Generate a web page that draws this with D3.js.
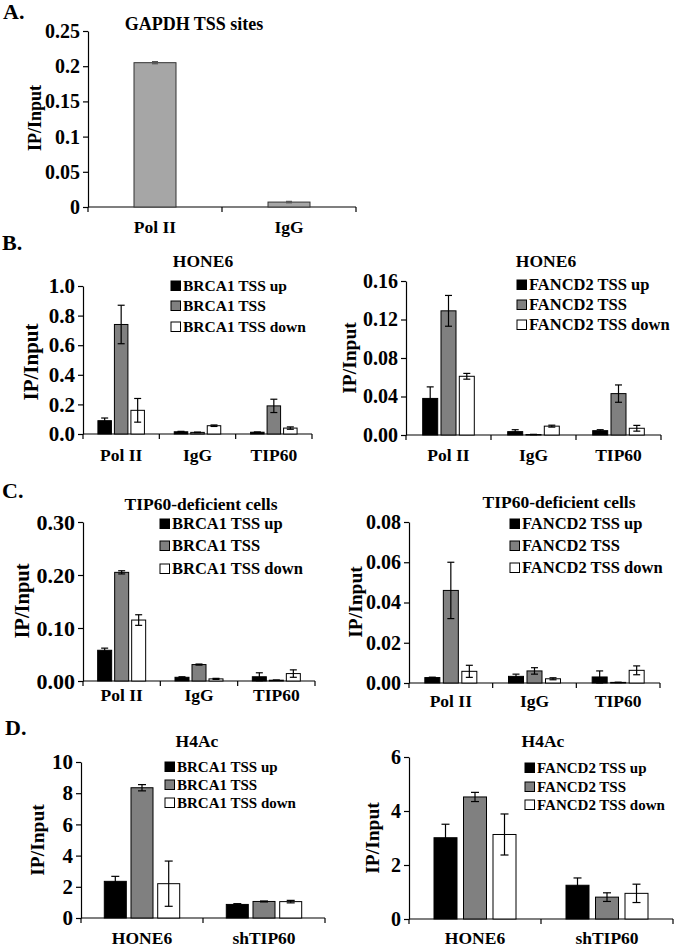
<!DOCTYPE html>
<html><head><meta charset="utf-8">
<script src="https://cdn.jsdelivr.net/npm/d3@7"></script>
<style>
html,body{margin:0;padding:0;background:#fff;}
svg text{font-family:"Liberation Serif","Times New Roman",serif;font-weight:bold;fill:#000;}
</style></head><body>
<svg id="chart" width="675" height="948"></svg>
<script>
// ---------------- DATA ----------------
const gapdhCategories = ["Pol II", "IgG"];
const gapdhSeries = ["GAPDH TSS sites"];
const gapdhValues = [0.205, 0.007];
const gapdhErrors = [0.0015, 0.001];
const gapdhTicks = [0, 0.05, 0.1, 0.15, 0.2, 0.25];

const chipCategories = ["Pol II", "IgG", "TIP60"];
const h4Categories = ["HONE6", "shTIP60"];
const brca1Series = ["BRCA1 TSS up", "BRCA1 TSS", "BRCA1 TSS down"];
const fancd2Series = ["FANCD2 TSS up", "FANCD2 TSS", "FANCD2 TSS down"];

// B: HONE6, BRCA1
const hone6Brca1Up = [0.09, 0.015, 0.012];
const hone6Brca1UpErr = [0.018, 0.003, 0.002];
const hone6Brca1Tss = [0.74, 0.011, 0.19];
const hone6Brca1TssErr = [0.13, 0.002, 0.045];
const hone6Brca1Down = [0.16, 0.056, 0.04];
const hone6Brca1DownErr = [0.08, 0.005, 0.008];
const hone6Brca1Ticks = [0, 0.2, 0.4, 0.6, 0.8, 1.0];

// B: HONE6, FANCD2
const hone6Fancd2Up = [0.038, 0.0035, 0.0045];
const hone6Fancd2UpErr = [0.012, 0.002, 0.001];
const hone6Fancd2Tss = [0.129, 0.0005, 0.043];
const hone6Fancd2TssErr = [0.016, 0.0002, 0.009];
const hone6Fancd2Down = [0.061, 0.0092, 0.007];
const hone6Fancd2DownErr = [0.003, 0.001, 0.003];
const hone6Fancd2Ticks = [0, 0.04, 0.08, 0.12, 0.16];

// C: TIP60-deficient, BRCA1
const defBrca1Up = [0.058, 0.007, 0.008];
const defBrca1UpErr = [0.004, 0.001, 0.0075];
const defBrca1Tss = [0.205, 0.031, 0.0015];
const defBrca1TssErr = [0.003, 0.001, 0.0003];
const defBrca1Down = [0.115, 0.004, 0.014];
const defBrca1DownErr = [0.01, 0.001, 0.007];
const defBrca1Ticks = [0, 0.1, 0.2, 0.3];

// C: TIP60-deficient, FANCD2
const defFancd2Up = [0.0027, 0.0033, 0.003];
const defFancd2UpErr = [0.0002, 0.0011, 0.003];
const defFancd2Tss = [0.046, 0.006, 0.0003];
const defFancd2TssErr = [0.014, 0.0016, 0.0001];
const defFancd2Down = [0.0058, 0.0021, 0.0063];
const defFancd2DownErr = [0.003, 0.0005, 0.0022];
const defFancd2Ticks = [0, 0.02, 0.04, 0.06, 0.08];

// D: H4Ac, BRCA1
const h4Brca1Up = [2.35, 0.87];
const h4Brca1UpErr = [0.32, 0.05];
const h4Brca1Tss = [8.35, 1.06];
const h4Brca1TssErr = [0.2, 0.03];
const h4Brca1Down = [2.2, 1.05];
const h4Brca1DownErr = [1.45, 0.08];
const h4Brca1Ticks = [0, 2, 4, 6, 8, 10];

// D: H4Ac, FANCD2
const h4Fancd2Up = [3.01, 1.25];
const h4Fancd2UpErr = [0.5, 0.27];
const h4Fancd2Tss = [4.52, 0.81];
const h4Fancd2TssErr = [0.17, 0.16];
const h4Fancd2Down = [3.13, 0.95];
const h4Fancd2DownErr = [0.76, 0.34];
const h4Fancd2Ticks = [0, 2, 4, 6];

// ---------------- DRAWING ----------------
const svg = d3.select("#chart");
const seriesFills = ["#000000", "#808080", "#ffffff"];

function drawPanel(cfg, cats, series, vals, errs, ticks, fmt, fills) {
  const g = svg.append("g");
  const x = d3.scaleBand().domain(cats).range([cfg.x0, cfg.x1]);
  const y = d3.scaleLinear().domain([0, cfg.max]).range([cfg.yb, cfg.yt]);
  const s = d3.scaleBand().domain(series)
    .range([-series.length / 2 * cfg.step, series.length / 2 * cfg.step]);

  // y axis
  const ya = g.append("g").attr("transform", `translate(${cfg.x0},0)`)
    .call(d3.axisLeft(y).tickValues(ticks).tickFormat(fmt).tickSize(5).tickSizeOuter(0).tickPadding(3));
  ya.select(".domain").attr("stroke", "#000").attr("stroke-width", 1.2);
  ya.selectAll(".tick line").attr("stroke", "#000").attr("stroke-width", 1.2);
  ya.selectAll(".tick text").style("font-size", cfg.tickFs + "px")
    .style("font-family", '"Liberation Serif",serif').style("font-weight", "bold").attr("fill", "#000");

  // x axis: line + boundary ticks (Excel style)
  g.append("line").attr("x1", cfg.x0).attr("x2", cfg.x1)
    .attr("y1", y(0)).attr("y2", y(0)).attr("stroke", "#000").attr("stroke-width", 1.2);
  const bounds = cats.map(c => x(c)).concat([x.range()[1]]);
  g.selectAll(".xt").data(bounds).enter().append("line")
    .attr("x1", d => d).attr("x2", d => d)
    .attr("y1", y(0)).attr("y2", y(0) + 5)
    .attr("stroke", "#000").attr("stroke-width", 1.2);
  g.selectAll(".xl").data(cats).enter().append("text")
    .attr("x", d => x(d) + x.bandwidth() / 2)
    .attr("y", cfg.xlY).attr("text-anchor", "middle")
    .style("font-size", cfg.xlFs + "px").text(d => d);

  // bars
  series.forEach((sn, i) => {
    cats.forEach((c, j) => {
      const v = vals[i][j], e = errs[i][j];
      const cx = x(c) + x.bandwidth() / 2 + s(sn) + s.bandwidth() / 2;
      g.append("rect")
        .attr("x", cx - cfg.bw / 2).attr("width", cfg.bw)
        .attr("y", y(v)).attr("height", y(0) - y(v))
        .attr("fill", fills[i]).attr("stroke", cfg.barStroke || "#000").attr("stroke-width", 1);
      const ec = cfg.errColor || "#000";
      const cap = cfg.cap || 7;
      g.append("line").attr("x1", cx).attr("x2", cx)
        .attr("y1", y(v + e)).attr("y2", y(Math.max(0, v - e)))
        .attr("stroke", ec).attr("stroke-width", 1.2);
      [v + e, Math.max(0, v - e)].forEach(yy => {
        g.append("line").attr("x1", cx - cap / 2).attr("x2", cx + cap / 2)
          .attr("y1", y(yy)).attr("y2", y(yy))
          .attr("stroke", ec).attr("stroke-width", 1.2);
      });
    });
  });

  // title
  g.append("text").attr("x", cfg.tx).attr("y", cfg.ty).attr("text-anchor", "middle")
    .style("font-size", cfg.titleFs + "px").text(cfg.title);
  // y label
  g.append("text").attr("transform", `translate(${cfg.ylx},${cfg.yly}) rotate(-90)`)
    .attr("text-anchor", "middle").style("font-size", cfg.ylFs + "px").text("IP/Input");
  // panel letter
  if (cfg.letter) {
    g.append("text").attr("x", cfg.letter[1]).attr("y", cfg.letter[2])
      .style("font-size", "22px").text(cfg.letter[0]);
  }
  // legend
  if (cfg.lx !== undefined) {
    series.forEach((sn, i) => {
      g.append("rect").attr("x", cfg.lx).attr("y", cfg.lys[i] - 10)
        .attr("width", 9.5).attr("height", 9.5)
        .attr("fill", fills[i]).attr("stroke", "#000").attr("stroke-width", 1);
      g.append("text").attr("x", cfg.lx + 12).attr("y", cfg.lys[i])
        .style("font-size", cfg.lFs + "px").text(sn);
    });
  }
}

// Panel A
drawPanel({x0: 88, x1: 356, yt: 31, yb: 207, max: 0.25, bw: 42, step: 0, tickFs: 20, xlFs: 17.5, xlY: 233,
  tx: 194, ty: 30, titleFs: 18, title: "GAPDH TSS sites", ylx: 41, yly: 118, ylFs: 18,
  letter: ["A.", 3, 19], barStroke: "#333", errColor: "#555", cap: 6},
  gapdhCategories, gapdhSeries, [gapdhValues], [gapdhErrors], gapdhTicks, d3.format("~g"), ["#a6a6a6"]);

// Panel B left
drawPanel({x0: 83, x1: 312, yt: 286, yb: 434, max: 1.0, bw: 13.5, step: 16.5, tickFs: 21, xlFs: 17.5, xlY: 461,
  tx: 203, ty: 267, titleFs: 17.5, title: "HONE6", ylx: 38, yly: 362, ylFs: 21,
  letter: ["B.", 2, 250], lx: 171, lys: [291, 311, 332], lFs: 15.5},
  chipCategories, brca1Series,
  [hone6Brca1Up, hone6Brca1Tss, hone6Brca1Down], [hone6Brca1UpErr, hone6Brca1TssErr, hone6Brca1DownErr],
  hone6Brca1Ticks, d3.format(".1f"), seriesFills);

// Panel B right
drawPanel({x0: 406, x1: 661, yt: 281, yb: 435, max: 0.16, bw: 15, step: 18.3, tickFs: 20, xlFs: 17.5, xlY: 461,
  tx: 546, ty: 267, titleFs: 17.5, title: "HONE6", ylx: 356, yly: 358, ylFs: 19.5,
  lx: 517, lys: [290, 310, 330], lFs: 16.5},
  chipCategories, fancd2Series,
  [hone6Fancd2Up, hone6Fancd2Tss, hone6Fancd2Down], [hone6Fancd2UpErr, hone6Fancd2TssErr, hone6Fancd2DownErr],
  hone6Fancd2Ticks, d3.format(".2f"), seriesFills);

// Panel C left
drawPanel({x0: 83, x1: 315, yt: 522, yb: 681, max: 0.3, bw: 14, step: 17, tickFs: 22, xlFs: 17.5, xlY: 701,
  tx: 201, ty: 510, titleFs: 17.5, title: "TIP60-deficient cells", ylx: 29, yly: 601, ylFs: 20.5,
  letter: ["C.", 2, 498], lx: 160, lys: [529, 551, 574], lFs: 16.5},
  chipCategories, brca1Series,
  [defBrca1Up, defBrca1Tss, defBrca1Down], [defBrca1UpErr, defBrca1TssErr, defBrca1DownErr],
  defBrca1Ticks, d3.format(".2f"), seriesFills);

// Panel C right
drawPanel({x0: 409, x1: 660, yt: 522, yb: 683, max: 0.08, bw: 15, step: 18.5, tickFs: 20, xlFs: 17.5, xlY: 707,
  tx: 559, ty: 508, titleFs: 17.5, title: "TIP60-deficient cells", ylx: 362, yly: 602, ylFs: 19.5,
  lx: 510, lys: [529, 551, 573], lFs: 16.5},
  chipCategories, fancd2Series,
  [defFancd2Up, defFancd2Tss, defFancd2Down], [defFancd2UpErr, defFancd2TssErr, defFancd2DownErr],
  defFancd2Ticks, d3.format(".2f"), seriesFills);

// Panel D left
drawPanel({x0: 81, x1: 325, yt: 762, yb: 918, max: 10, bw: 22, step: 26.7, tickFs: 21, xlFs: 17.5, xlY: 944,
  tx: 197, ty: 747, titleFs: 17.5, title: "H4Ac", ylx: 44, yly: 840, ylFs: 19.5,
  letter: ["D.", 5, 735], lx: 165, lys: [772, 790, 808], lFs: 15, cap: 8},
  h4Categories, brca1Series,
  [h4Brca1Up, h4Brca1Tss, h4Brca1Down], [h4Brca1UpErr, h4Brca1TssErr, h4Brca1DownErr],
  h4Brca1Ticks, d3.format("d"), seriesFills);

// Panel D right
drawPanel({x0: 409, x1: 673, yt: 757, yb: 919, max: 6, bw: 23, step: 29.5, tickFs: 20, xlFs: 17.5, xlY: 944,
  tx: 543, ty: 747, titleFs: 17.5, title: "H4Ac", ylx: 379, yly: 838, ylFs: 19.5,
  lx: 525, lys: [773, 792, 810], lFs: 15, cap: 8},
  h4Categories, fancd2Series,
  [h4Fancd2Up, h4Fancd2Tss, h4Fancd2Down], [h4Fancd2UpErr, h4Fancd2TssErr, h4Fancd2DownErr],
  h4Fancd2Ticks, d3.format("d"), seriesFills);
</script>
</body></html>
